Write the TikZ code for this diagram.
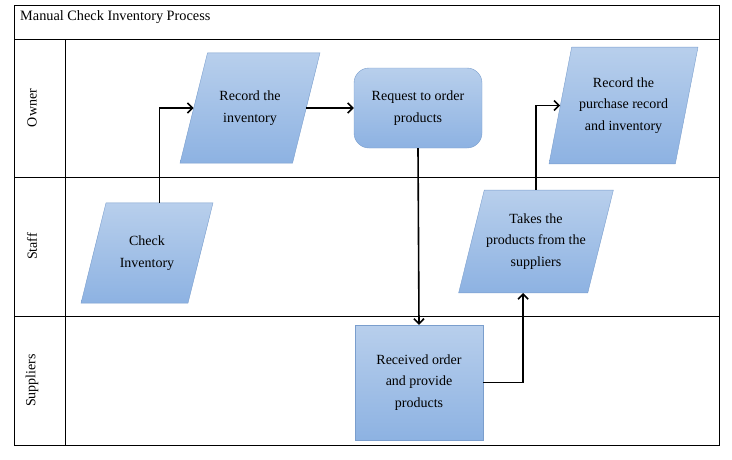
\documentclass[tikz,border=0pt]{standalone}
\usepackage{fontspec}
\setmainfont{Liberation Serif}
\usetikzlibrary{shapes.geometric, arrows.meta, positioning}
\definecolor{boxtop}{RGB}{184,207,236}
\definecolor{boxbot}{RGB}{141,178,226}
\definecolor{boxline}{RGB}{122,158,205}
\tikzstyle{io} = [trapezium, trapezium left angle=76, trapezium right angle=104, trapezium stretches body=true, draw=boxline, top color=boxtop, bottom color=boxbot, text centered, align=center, font=\fontsize{14pt}{21.5pt}\selectfont]
\tikzstyle{process} = [rectangle, draw=boxline, top color=boxtop, bottom color=boxbot, text centered, align=center, minimum width=128pt, font=\fontsize{14pt}{21.5pt}\selectfont]
\tikzstyle{lane} = [rotate=90, inner sep=0pt, font=\fontsize{14pt}{17pt}\selectfont]
\tikzstyle{arrow} = [line width=1.6pt, -{Straight Barb[length=5pt, width=10pt]}]

\begin{document}
\begin{tikzpicture}[x=1pt, y=-1pt, node distance=168pt]
			\useasboundingbox (0,0) rectangle (732,459);
			% Lanes
			\draw [line width=1pt] (14,5) rectangle (719,445);
			\draw [line width=1pt] (14,39) -- (719,39);
			\draw [line width=1pt] (14,177) -- (719,177);
			\draw [line width=1pt] (14,316) -- (719,316);
			\draw [line width=1pt] (65,39) -- (65,445);
			\node (title) [anchor=west, inner sep=0pt, font=\fontsize{14.3pt}{17pt}\selectfont] at (20,17.5) {Manual Check Inventory Process};
			\node (owner) [lane] at (32,108) {Owner};
			\node (staff) [lane] at (32,246.5) {Staff};
			\node (suppliers) [lane] at (32,380.5) {Suppliers};
			% Nodes
			\node (check) [io, minimum width=132pt, inner ysep=33pt] at (147,253) {Check\\Inventory};
			\node (record) [io, minimum width=140pt, inner ysep=38pt] at (250,108) {Record the\\inventory};
			\node (request) [process, right of=record, rounded corners=15pt, minimum height=80pt] {Request to order\\products};
			\node (receive) [process, below of=request, xshift=1pt, yshift=-106.5pt, minimum height=115pt] {Received order\\and provide\\products};
			\node (take) [io, minimum width=148pt, inner xsep=2pt, inner ysep=23.5pt] at (536,241.5) {Takes the\\products from the\\suppliers};
			\node (purchase) [io, trapezium left angle=79, trapezium right angle=101, minimum width=149pt, inner xsep=2pt, inner ysep=30.5pt] at (623.5,105.5) {Record the\\purchase record\\and inventory};
			% Arrows
			\draw [arrow] (check.top side) |- (record.left side);
			\draw [arrow] (record.right side) -- (request.west);
			\draw [arrow] (request.south) -- (receive.north);
			\draw [arrow] (receive.east) -| (take.bottom side);
			\draw [arrow] (take.north -| take.center) |- (purchase.left side);
		\end{tikzpicture}
\end{document}
